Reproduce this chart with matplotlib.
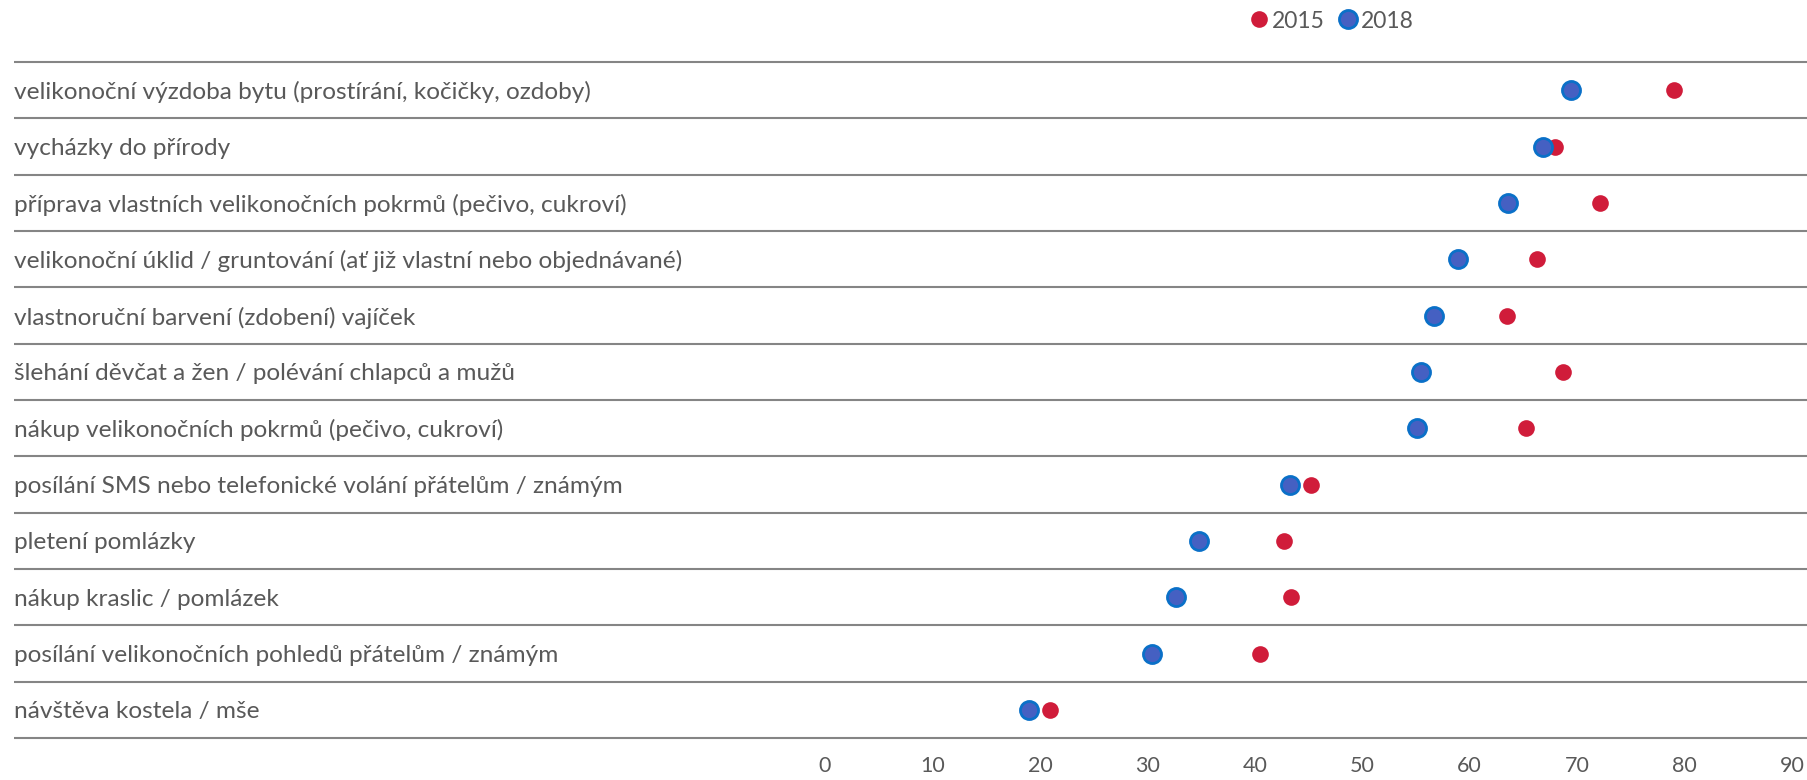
import matplotlib
matplotlib.use('Agg')
import matplotlib.pyplot as plt
from matplotlib.transforms import blended_transform_factory
from matplotlib.lines import Line2D
import numpy as np

plt.rcParams['font.family'] = ['Lato', 'DejaVu Sans']

categories = [
    'velikonoční výzdoba bytu (prostírání, kočičky, ozdoby)',
    'vycházky do přírody',
    'příprava vlastních velikonočních pokrmů (pečivo, cukroví)',
    'velikonoční úklid / gruntování (ať již vlastní nebo objednávané)',
    'vlastnoruční barvení (zdobení) vajíček',
    'šlehání děvčat a žen / polévání chlapců a mužů',
    'nákup velikonočních pokrmů (pečivo, cukroví)',
    'posílání SMS nebo telefonické volání přátelům / známým',
    'pletení pomlázky',
    'nákup kraslic / pomlázek',
    'posílání velikonočních pohledů přátelům / známým',
    'návštěva kostela / mše',
]
values_2015 = [79.0, 67.9, 72.1, 66.3, 63.5, 68.7, 65.2, 45.2, 42.7, 43.4, 40.5, 20.9]
values_2018 = [69.4, 66.8, 63.6, 58.9, 56.7, 55.5, 55.1, 43.3, 34.8, 32.7, 30.4, 19.0]
ticks = list(range(0, 100, 10))

RED = '#d01c3a'
BLUE_FACE = '#4560c2'
BLUE_EDGE = '#0a70c8'
GREY_TEXT = '#595959'
GREY_LINE = '#858585'

W, H = 1808, 780
fig = plt.figure(figsize=(W / 100, H / 100), dpi=100)
ax = fig.add_axes([825 / W, 1 - 738 / H, (1792 - 825) / W, (738 - 62) / H])

y = np.arange(len(categories))
ax.plot(values_2015, y, 'o', color=RED, markersize=12, markeredgewidth=0, zorder=3)
ax.plot(values_2018, y, 'o', markerfacecolor=BLUE_FACE, markeredgecolor=BLUE_EDGE,
        markersize=13, markeredgewidth=2, zorder=4)

ax.set_xlim(0, 90)
ax.set_ylim(len(categories) - 0.5, -0.5)
ax.set_xticks(ticks)
ax.set_xticklabels([str(t) for t in ticks])
ax.set_yticks([])
ax.tick_params(axis='x', length=0, pad=13, labelsize=15.5, labelcolor=GREY_TEXT)
for s in ax.spines.values():
    s.set_visible(False)

# row separators run across the whole figure width
trans = blended_transform_factory(fig.transFigure, ax.transData)
bounds = np.arange(len(categories) + 1) - 0.5
ax.hlines(bounds, 14 / W, 1.0, transform=trans, colors=GREY_LINE,
          linewidth=1.5, clip_on=False, zorder=1)

for yi, label in zip(y, categories):
    ax.text(14 / W, yi, label, transform=trans, ha='left', va='center_baseline',
            fontsize=17.6, color=GREY_TEXT)

handles = [
    Line2D([], [], marker='o', linestyle='', color=RED, markersize=12, markeredgewidth=0),
    Line2D([], [], marker='o', linestyle='', markerfacecolor=BLUE_FACE,
           markeredgecolor=BLUE_EDGE, markersize=13, markeredgewidth=2),
]
fig.legend(handles, ['2015', '2018'], loc='center', bbox_to_anchor=(1330 / W, 1 - 21 / H),
           ncol=2, frameon=False, fontsize=16.5, labelcolor=GREY_TEXT,
           handletextpad=0.0, columnspacing=0.5, handlelength=1.1)

fig.savefig('out.png', dpi=100)
